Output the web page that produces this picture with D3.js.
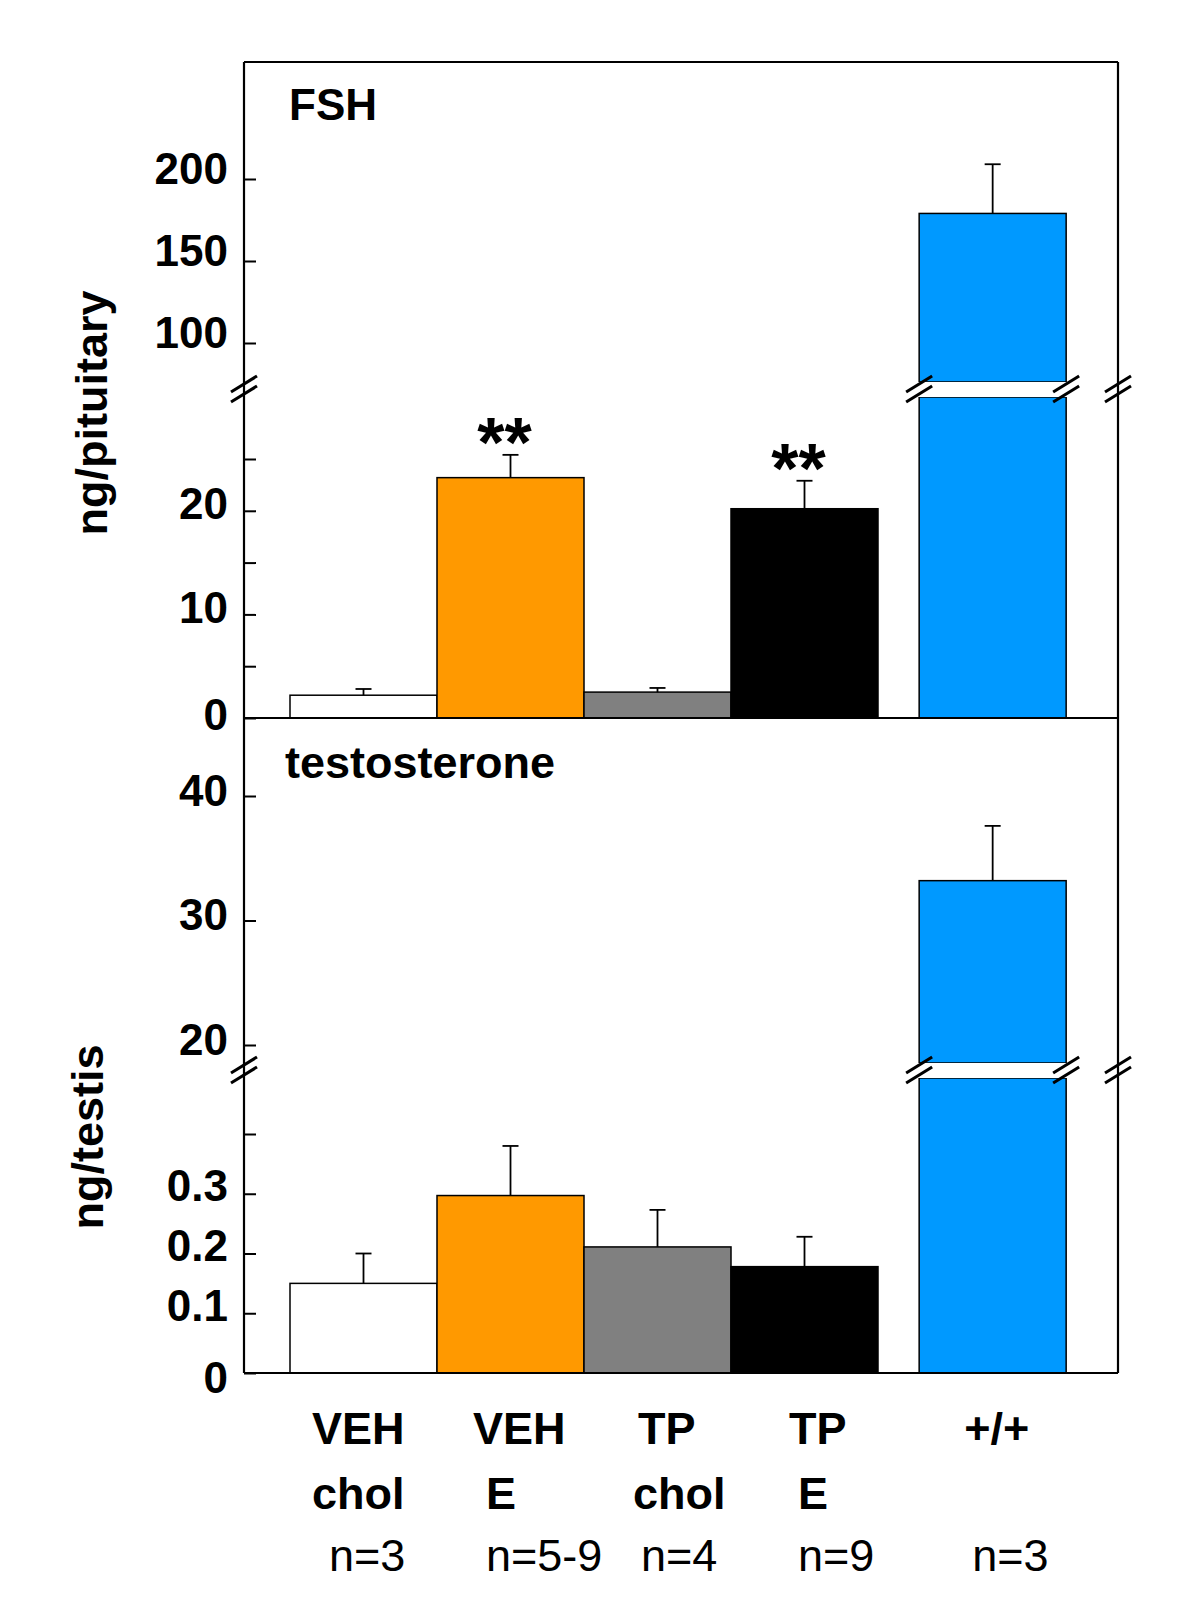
<!DOCTYPE html>
<html><head><meta charset="utf-8">
<script src="https://cdn.jsdelivr.net/npm/d3@7"></script>
<style>body{margin:0;background:#fff} svg{display:block} text{font-family:"Liberation Sans",Arial,Helvetica,sans-serif}</style>
</head><body><svg id="c" width="1200" height="1620"></svg>
<script>
// ---------- data ----------
const categories = ["VEH chol", "VEH E", "TP chol", "TP E", "+/+"];
const labelLine1 = ["VEH", "VEH", "TP", "TP", "+/+"];
const labelLine2 = ["chol", "E", "chol", "E", ""];
const nLabels = ["n=3", "n=5-9", "n=4", "n=9", "n=3"];
const barColors = ["#ffffff", "#ff9900", "#808080", "#000000", "#0099ff"];
const fshMean = [2.2, 23.2, 2.5, 20.2, 179];
const fshErr = [0.6, 2.2, 0.4, 2.7, 30];
const fshSig = ["", "**", "", "**", ""];
const testoMean = [0.150, 0.297, 0.211, 0.178, 33.2];
const testoErr = [0.050, 0.083, 0.062, 0.050, 4.4];
const fshLowTicks = [0, 5, 10, 15, 20, 25];
const fshLowTickLabels = ["0", "", "10", "", "20", ""];
const fshHighTicks = [100, 150, 200];
const fshHighTickLabels = ["100", "150", "200"];
const testoLowTicks = [0, 0.1, 0.2, 0.3, 0.4];
const testoLowTickLabels = ["0", "0.1", "0.2", "0.3", ""];
const testoHighTicks = [20, 30, 40];
const testoHighTickLabels = ["20", "30", "40"];
const brokenIndex = 4; // the +/+ bar crosses the axis break

// ---------- layout ----------
const L = {
  axisX: 244, rightX: 1118, top: 62, mid: 718, bottom: 1373,
  slots: [0, 1, 2, 3, 4.28], barW: 147,
  fshBreak: [382, 397], testoBreak: [1063, 1078],
  row1Off: [22, 36, 54, 58, 45], row2Off: [22, 49, 49, 67, 0], row3Off: [39, 49, 57, 67, 53],
  row1Y: 1444, row2Y: 1509, row3Y: 1571
};

const svg = d3.select("#c");
const xs = d3.scaleLinear().domain([0, 1]).range([290, 290 + L.barW]);

const fshLow = d3.scaleLinear().domain([0, 25]).range([L.mid, 459]);
const fshHigh = d3.scaleLinear().domain([100, 200]).range([343, 179]);
const tLow = d3.scaleLinear().domain([0, 0.4]).range([L.bottom, 1134]);
const tHigh = d3.scaleLinear().domain([20, 40]).range([1045, 796]);

function drawAxis(scale, ticks, labels, dyPx, dyZero) {
  const g = svg.append("g").attr("transform", `translate(${L.axisX},0)`)
    .call(d3.axisLeft(scale).tickValues(ticks).tickSizeInner(-12).tickSizeOuter(0).tickPadding(16)
      .tickFormat((d, i) => labels[i]));
  g.select(".domain").remove();
  g.selectAll(".tick line").attr("stroke", "#000").attr("stroke-width", 2);
  g.selectAll(".tick text").attr("fill", "#000").attr("font-size", 44).attr("font-weight", "bold")
    .attr("dy", d => (d === 0 ? dyZero : dyPx) + "px");
}
drawAxis(fshLow, fshLowTicks, fshLowTickLabels, 8, 11);
drawAxis(fshHigh, fshHighTicks, fshHighTickLabels, 4, 4);
drawAxis(tLow, testoLowTicks, testoLowTickLabels, 7, 19);
drawAxis(tHigh, testoHighTicks, testoHighTickLabels, 9, 9);

function drawPanel(mean, err, lowS, highS, brk, sig) {
  const g = svg.append("g");
  const lowBase = lowS(0);
  mean.forEach((v, i) => {
    const x0 = xs(L.slots[i]);
    const cx = x0 + L.barW / 2;
    let yTop, ye;
    if (i === brokenIndex) {
      yTop = highS(v);
      ye = highS(v + err[i]);
      g.append("rect").attr("x", x0).attr("y", brk[1]).attr("width", L.barW).attr("height", lowBase - brk[1])
        .attr("fill", barColors[i]).attr("stroke", "#000").attr("stroke-width", 1.5);
      g.append("rect").attr("x", x0).attr("y", yTop).attr("width", L.barW).attr("height", brk[0] - yTop)
        .attr("fill", barColors[i]).attr("stroke", "#000").attr("stroke-width", 1.5);
      g.append("rect").attr("x", x0 - 2).attr("y", brk[0]).attr("width", L.barW + 4).attr("height", brk[1] - brk[0])
        .attr("fill", "#fff");
    } else {
      yTop = lowS(v);
      ye = lowS(v + err[i]);
      g.append("rect").attr("x", x0).attr("y", yTop).attr("width", L.barW).attr("height", lowBase - yTop)
        .attr("fill", barColors[i]).attr("stroke", "#000").attr("stroke-width", 1.5);
    }
    g.append("line").attr("x1", cx).attr("x2", cx).attr("y1", yTop).attr("y2", ye).attr("stroke", "#000").attr("stroke-width", 1.8);
    g.append("line").attr("x1", cx - 8).attr("x2", cx + 8).attr("y1", ye).attr("y2", ye).attr("stroke", "#000").attr("stroke-width", 1.8);
    if (sig && sig[i]) {
      g.append("text").attr("x", cx - 6).attr("y", ye + 12).attr("text-anchor", "middle")
        .attr("font-size", 70).attr("font-weight", "bold").text(sig[i]);
    }
  });
  // break marks
  const bx = [L.axisX, xs(L.slots[brokenIndex]), xs(L.slots[brokenIndex]) + L.barW, L.rightX];
  bx.forEach(x => {
    [brk[0] + 2, brk[1] - 3].forEach(y => {
      svg.append("line").attr("x1", x - 13).attr("y1", y + 8).attr("x2", x + 13).attr("y2", y - 8)
        .attr("stroke", "#000").attr("stroke-width", 3);
    });
  });
}
drawPanel(fshMean, fshErr, fshLow, fshHigh, L.fshBreak, fshSig);
drawPanel(testoMean, testoErr, tLow, tHigh, L.testoBreak, null);

// frame
const fr = svg.append("g").attr("stroke", "#000").attr("stroke-width", 2.2).attr("fill", "none");
fr.append("line").attr("x1", L.axisX).attr("x2", L.axisX).attr("y1", L.top).attr("y2", L.bottom);
fr.append("line").attr("x1", L.rightX).attr("x2", L.rightX).attr("y1", L.top).attr("y2", L.bottom);
fr.append("line").attr("x1", L.axisX).attr("x2", L.rightX).attr("y1", L.top).attr("y2", L.top);
fr.append("line").attr("x1", L.axisX).attr("x2", L.rightX).attr("y1", L.mid).attr("y2", L.mid);
fr.append("line").attr("x1", L.axisX).attr("x2", L.rightX).attr("y1", L.bottom).attr("y2", L.bottom);

// panel titles
svg.append("text").attr("x", 289).attr("y", 120).attr("font-size", 44).attr("font-weight", "bold").text("FSH");
svg.append("text").attr("x", 285).attr("y", 778).attr("font-size", 45).attr("font-weight", "bold").text("testosterone");

// y titles
svg.append("text").attr("transform", "translate(107,413) rotate(-90)").attr("text-anchor", "middle")
  .attr("font-size", 45).attr("font-weight", "bold").text("ng/pituitary");
svg.append("text").attr("transform", "translate(103,1137) rotate(-90)").attr("text-anchor", "middle")
  .attr("font-size", 45).attr("font-weight", "bold").text("ng/testis");

// category labels
categories.forEach((c, i) => {
  const x0 = xs(L.slots[i]);
  svg.append("text").attr("x", x0 + L.row1Off[i]).attr("y", L.row1Y).attr("font-size", 45).attr("font-weight", "bold").text(labelLine1[i]);
  if (labelLine2[i]) svg.append("text").attr("x", x0 + L.row2Off[i]).attr("y", L.row2Y).attr("font-size", 45).attr("font-weight", "bold").text(labelLine2[i]);
  svg.append("text").attr("x", x0 + L.row3Off[i]).attr("y", L.row3Y).attr("font-size", 45).text(nLabels[i]);
});
</script></body></html>
